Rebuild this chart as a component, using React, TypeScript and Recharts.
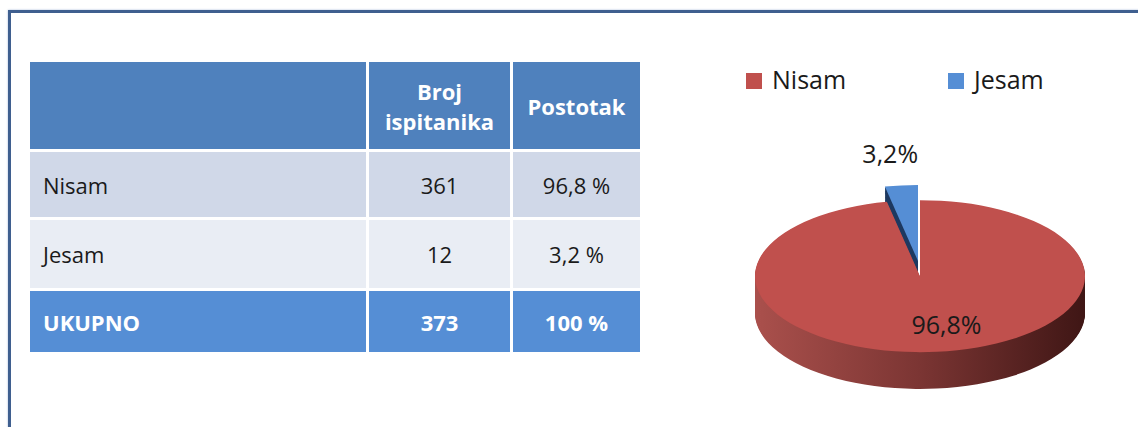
import React from 'react';
import { PieChart, Pie, Cell } from 'recharts';

// survey answers
const categories = ['Nisam', 'Jesam'];
const counts = [361, 12];
const percents = [96.8, 3.2];
const totalLabel = 'UKUPNO';
const totalCount = 373;
const totalPercent = 100;
const headerCount = ['Broj', 'ispitanika'];
const headerPercent = 'Postotak';

const topColors = ['#c0504d', '#558ed5'];
const sideColors = ['url(#wallRed)', '#1f3a60'];

const pieData = categories.map((name, i) => ({ name, value: counts[i] }));

const FONT = '"Open Sans", "DejaVu Sans", sans-serif';
const RADIAN = Math.PI / 180;

// fake 3D: the svg is squashed vertically and side walls are stacked pies
const K = 0.4606;
const R = 165;
const CX = 195;
const CY = 334;
const DEPTH = 80;
const LIFT = 33;
const SHIFT = 2;
const layers = Array.from({ length: DEPTH / 2 }, (_, i) => DEPTH - i * 2);

const pct = (v: number, space = '') => `${String(v).replace('.', ',')}${space}%`;

function makeLabel(which: number, rho: number, dx: number) {
  return (props: any) => {
    if (props.index !== which) return null;
    const a = -props.midAngle * RADIAN;
    const x = props.cx + rho * Math.cos(a) + dx;
    const y = props.cy + rho * Math.sin(a);
    return (
      <text
        transform={`translate(${x} ${y}) scale(1 ${1 / K})`}
        textAnchor="middle"
        dominantBaseline="central"
        fill="#1a1a1a"
        style={{ fontFamily: FONT, fontSize: 25 }}
      >
        {pct(percents[which])}
      </text>
    );
  };
}

function cells(visible: number, colors: string[]) {
  return pieData.map((_, i) => (
    <Cell key={i} fill={i === visible ? colors[i] : 'transparent'} />
  ));
}

const cellBase: React.CSSProperties = {
  padding: 0,
  fontFamily: FONT,
  fontSize: 22,
};

function DataTable() {
  const rowBg = ['#d0d8e8', '#e9edf4'];
  return (
    <table
      style={{
        position: 'absolute',
        left: 27,
        top: 59,
        borderCollapse: 'separate',
        borderSpacing: 3,
        tableLayout: 'fixed',
      }}
    >
      <colgroup>
        <col style={{ width: 336 }} />
        <col style={{ width: 141 }} />
        <col style={{ width: 127 }} />
      </colgroup>
      <tbody>
        <tr style={{ height: 87, background: '#4f81bd', color: '#fff', fontWeight: 700 }}>
          <td style={cellBase} />
          <td style={{ ...cellBase, textAlign: 'center', lineHeight: '30px' }}>
            {headerCount[0]}
            <br />
            {headerCount[1]}
          </td>
          <td style={{ ...cellBase, textAlign: 'center' }}>{headerPercent}</td>
        </tr>
        {categories.map((c, i) => (
          <tr key={c} style={{ height: i === 0 ? 65 : 68, background: rowBg[i], color: '#1a1a1a' }}>
            <td style={{ ...cellBase, paddingLeft: 13 }}>{c}</td>
            <td style={{ ...cellBase, textAlign: 'center' }}>{counts[i]}</td>
            <td style={{ ...cellBase, textAlign: 'center' }}>{pct(percents[i], ' ')}</td>
          </tr>
        ))}
        <tr style={{ height: 61, background: '#558ed5', color: '#fff', fontWeight: 700 }}>
          <td style={{ ...cellBase, paddingLeft: 13 }}>{totalLabel}</td>
          <td style={{ ...cellBase, textAlign: 'center' }}>{totalCount}</td>
          <td style={{ ...cellBase, textAlign: 'center' }}>{pct(totalPercent, ' ')}</td>
        </tr>
      </tbody>
    </table>
  );
}

function PieLegend() {
  const lefts = [746, 948];
  return (
    <>
      {categories.map((c, i) => (
        <div
          key={c}
          style={{
            position: 'absolute',
            left: lefts[i],
            top: 62,
            height: 34,
            display: 'flex',
            alignItems: 'center',
            fontFamily: FONT,
            fontSize: 25,
            lineHeight: '34px',
            color: '#1a1a1a',
          }}
        >
          <span style={{ width: 16, height: 16, background: topColors[i], marginRight: 10, marginTop: 4 }} />
          {c}
        </div>
      ))}
    </>
  );
}

export default function App() {
  return (
    <div style={{ position: 'fixed', left: 0, top: 0, width: 1138, height: 427, overflow: 'hidden', background: '#fff' }}>
      <div
        style={{
          position: 'absolute',
          left: 8,
          top: 10,
          width: 1300,
          height: 600,
          border: '3px solid #3f5f8f',
          boxShadow: '0 0 2px #a9bcd9',
        }}
      />
      <DataTable />
      <PieLegend />
      <div
        style={{
          position: 'absolute',
          left: 720,
          top: 120,
          width: 400,
          height: 600,
          transform: `scaleY(${K})`,
          transformOrigin: 'top left',
        }}
      >
        <PieChart width={400} height={600}>
          <defs>
            <linearGradient id="wallRed" x1="0" y1="0" x2="1" y2="0">
              <stop offset="0%" stopColor="#aa504c" />
              <stop offset="50%" stopColor="#7b3533" />
              <stop offset="100%" stopColor="#3f1615" />
            </linearGradient>
          </defs>
          {layers.map((d) => (
            <Pie
              key={`bw${d}`}
              data={pieData}
              dataKey="value"
              cx={CX - SHIFT}
              cy={CY - LIFT + d}
              outerRadius={R}
              startAngle={90}
              endAngle={-270}
              stroke="none"
              isAnimationActive={false}
            >
              {cells(1, sideColors)}
            </Pie>
          ))}
          <Pie
            data={pieData}
            dataKey="value"
            cx={CX - SHIFT}
            cy={CY - LIFT}
            outerRadius={R}
            startAngle={90}
            endAngle={-270}
            stroke="none"
            label={makeLabel(1, 1.43 * R, -4)}
            labelLine={false}
            isAnimationActive={false}
          >
            {cells(1, topColors)}
          </Pie>
          {layers.map((d) => (
            <Pie
              key={`rw${d}`}
              data={pieData}
              dataKey="value"
              cx={CX}
              cy={CY + d}
              outerRadius={R}
              startAngle={90}
              endAngle={-270}
              stroke="none"
              isAnimationActive={false}
            >
              {cells(0, sideColors)}
            </Pie>
          ))}
          <Pie
            data={pieData}
            dataKey="value"
            cx={CX}
            cy={CY}
            outerRadius={R}
            startAngle={90}
            endAngle={-270}
            stroke="none"
            label={makeLabel(0, 0.63 * R, 16)}
            labelLine={false}
            isAnimationActive={false}
          >
            {cells(0, topColors)}
          </Pie>
        </PieChart>
      </div>
    </div>
  );
}
